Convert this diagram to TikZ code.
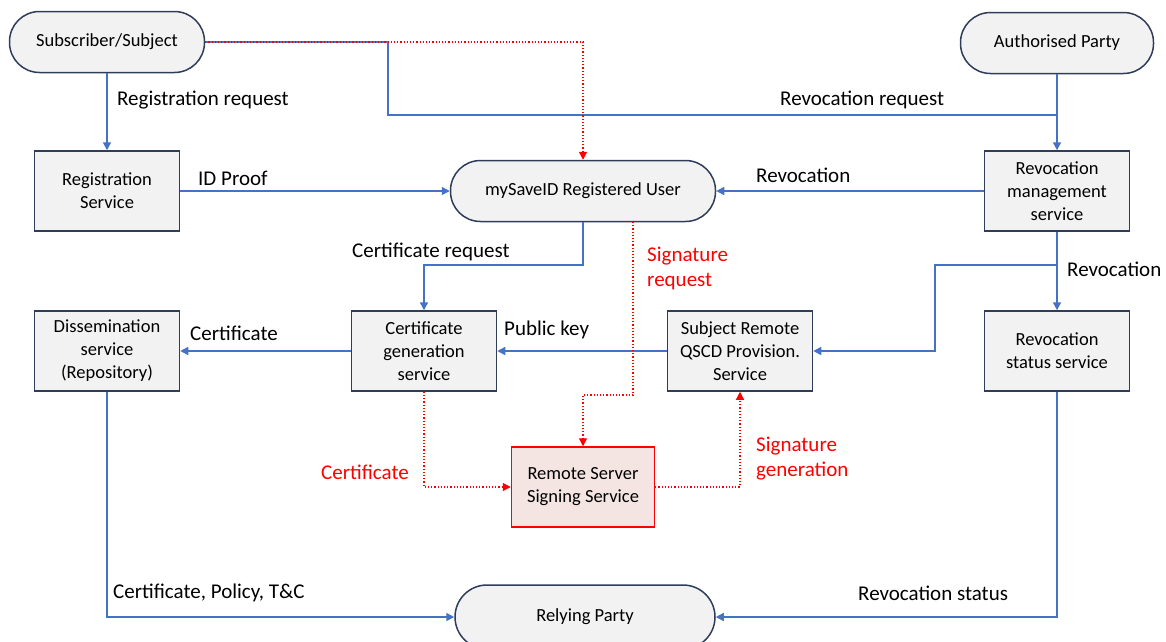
\documentclass[tikz,border=0pt]{standalone}
\usepackage{fontspec}
\setmainfont{Carlito}
\usetikzlibrary{arrows.meta}
\definecolor{boxfill}{HTML}{F2F2F2}
\definecolor{boxdraw}{HTML}{2F3D5A}
\definecolor{lineblue}{HTML}{4472C4}
\definecolor{redfill}{HTML}{F4E5E3}
\definecolor{redline}{HTML}{FF0000}
\begin{document}
\begin{tikzpicture}[x=1pt,y=-1pt,
 svc/.style={draw=boxdraw,fill=boxfill,line width=1.5pt,minimum width=145pt,minimum height=80pt,align=center,font=\fontsize{18.5}{23}\selectfont,inner sep=0pt},
 pill/.style={svc,rounded corners=30pt,minimum height=61pt},
 flow/.style={draw=lineblue,line width=1.5pt,-{Triangle[length=8pt,width=8pt]}},
 plain/.style={draw=lineblue,line width=1.5pt},
 sig/.style={draw=redline,line width=1.2pt,dotted,-{Triangle[length=8pt,width=8pt]}},
 lbl/.style={anchor=west,inner sep=0pt,font=\fontsize{21}{25}\selectfont,align=left,yshift=-2pt},
 rlbl/.style={lbl,text=redline}]
\path[use as bounding box] (0,0) rectangle (1166,641);
% nodes
\node[pill,minimum width=195pt] (sub) at (107,42) {Subscriber/Subject};
\node[pill,minimum width=193pt] (auth) at (1057,43) {Authorised Party};
\node[svc] (reg) at (107,191) {Registration\\Service};
\node[pill,minimum width=265pt] (user) at (583,191) {mySaveID Registered User};
\node[svc] (revm) at (1057,191) {Revocation\\management\\service};
\node[svc] (diss) at (107,351) {Dissemination\\service\\(Repository)};
\node[svc] (cert) at (424,351) {Certificate\\generation\\service};
\node[svc] (qscd) at (740,351) {Subject Remote\\QSCD Provision.\\Service};
\node[svc] (revs) at (1057,351) {Revocation\\status service};
\node[svc,draw=redline,fill=redfill,minimum width=143pt] (rss) at (583,487) {Remote Server\\Signing Service};
\node[pill,minimum width=260pt,minimum height=64pt,rounded corners=32pt] (rp) at (585,617) {Relying Party};
% helper coordinates
\coordinate (j1) at (388,42);
\coordinate (j2) at (388,115);
\coordinate (j3) at (1057,115);
\coordinate (j4) at (583,265);
\coordinate (j5) at (1057,265);
\coordinate (j6) at (935,265);
\coordinate (j7) at (633,222);
\coordinate (j8) at (633,395);
% blue connectors
\draw[flow] (sub) -- (reg);
\draw[plain] (sub.east) -- (j1) -- (j2) -- (j3);
\draw[flow] (auth) -- (revm);
\draw[flow] (reg) -- (user);
\draw[flow] (revm) -- (user);
\draw[flow] (user.south) -- (j4) -| (cert.north);
\draw[flow] (revm) -- (revs);
\draw[flow] (j5) -- (j6) |- (qscd.east);
\draw[flow] (qscd) -- (cert);
\draw[flow] (cert) -- (diss);
\draw[flow] (diss.south) |- (rp.west);
\draw[flow] (revs.south) |- (rp.east);
% red dotted connectors
\draw[sig] (sub.east) -| (user.north);
\draw[sig] (j7) -- (j8) -| (rss.north);
\draw[sig] (cert.south) |- (rss.west);
\draw[sig] (rss.east) -| (qscd.south);
% labels
\node[lbl] (l1) at (117,98) {Registration request};
\node[lbl] (l2) at (780,98) {Revocation request};
\node[lbl] (l3) at (198,176) {ID Proof};
\node[lbl] (l4) at (756,173) {Revocation};
\node[lbl] (l5) at (352,250) {Certificate request};
\node[rlbl] (l6) at (647,266) {Signature\\request};
\node[lbl] (l7) at (1067,267) {Revocation};
\node[lbl] (l8) at (190,331) {Certificate};
\node[lbl] (l9) at (504,328) {Public key};
\node[rlbl] (l10) at (321,470) {Certificate};
\node[rlbl] (l11) at (756,457) {Signature\\generation};
\node[lbl] (l12) at (113,591) {Certificate, Policy, T\&C};
\node[lbl] (l13) at (858,591) {Revocation status};
\end{tikzpicture}
\end{document}
